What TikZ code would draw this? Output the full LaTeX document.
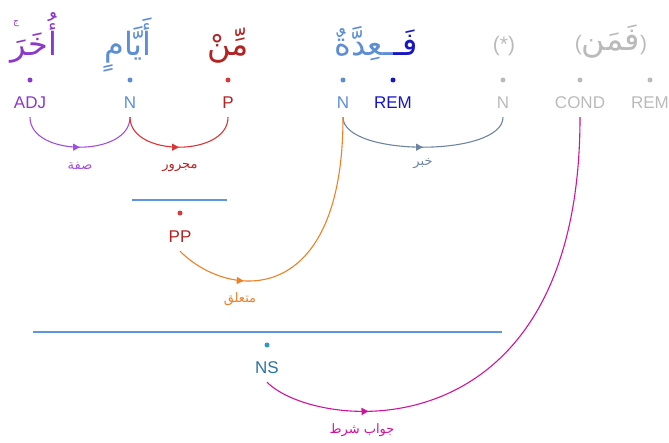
\documentclass[tikz,border=0pt]{standalone}
\usepackage{fontspec}
\setmainfont{Liberation Sans}
\newfontfamily\arabicfont[Script=Arabic]{DejaVu Sans}
\TeXXeTstate=1
\usetikzlibrary{arrows.meta,decorations.markings}
\definecolor{qpurple}{RGB}{140,56,200}
\definecolor{qblue}{RGB}{92,142,214}
\definecolor{qred}{RGB}{178,36,36}
\definecolor{qredl}{RGB}{214,58,58}
\definecolor{qrem}{RGB}{22,22,196}
\definecolor{qgray}{RGB}{186,186,186}
\definecolor{qteal}{RGB}{40,118,160}
\definecolor{qtealdot}{RGB}{50,152,192}
\definecolor{qline}{RGB}{92,150,222}
\definecolor{cpurple}{RGB}{160,80,222}
\definecolor{cred}{RGB}{220,52,52}
\definecolor{cslate}{RGB}{108,132,162}
\definecolor{corange}{RGB}{238,128,38}
\definecolor{cmag}{RGB}{208,18,158}
\newcommand\artxt[1]{{\arabicfont\beginR #1\endR}}
\newcommand\paren[1]{{\fontsize{21}{24}\selectfont #1}}

\begin{document}
\begin{tikzpicture}[x=1pt,y=-1pt,
    word/.style={anchor=base,font=\fontsize{32}{36}\selectfont,inner sep=0pt},
    tag/.style={anchor=base,font=\fontsize{17}{20}\selectfont,text height=12pt,text depth=0pt,inner xsep=2pt,inner ysep=9pt},
    pt/.style={circle,fill,inner sep=0pt,minimum size=5pt},
    rel/.style={font=\fontsize{13}{15}\selectfont\arabicfont,inner sep=1pt},
    dep/.style={line width=1.1pt,decoration={markings,mark=at position #1 with {\arrow{Triangle[length=7pt,width=7pt]}}},postaction=decorate},
    dep/.default=0.5,
    span/.style={qline,line width=1.1pt}]
    \useasboundingbox (0,0) rectangle (669,442);
    % words
    \node[word,text=qpurple] (wadj) at (34,55) {\artxt{أُخَرَ}};
    \node[text=qpurple,font=\fontsize{9}{9}\selectfont\arabicfont,inner sep=0pt] (wjeem) at (16,24) {ج};
    \node[word,text=qblue] (wn1) at (128,55) {\artxt{أَيَّامٍ}};
    \node[word,text=qred] (wp) at (228,55) {\artxt{مِّنْ}};
    \node[word,text=qblue,anchor=base east] (wn2) at (393,55) {\artxt{ـعِدَّةٌ}};
    \node[word,text=qrem,anchor=base west] (wrem) at (wn2.base east) {\artxt{فَـ}};
    \node[word,text=qgray] (wn3) at (504,51) {\paren{(*)}};
    \node[word,text=qgray] (wcond) at (611,50) {\paren{(}\artxt{فَمَن}\paren{)}};
    % dots and tags
    \foreach \nm/\x/\c in {adj/30/qpurple,n1/130/qblue,p/228/qredl,n2/343/qblue,rem/393/qrem,n3/503/qgray,cond/580/qgray,remb/650/qgray}
      \node[pt,fill=\c] (d\nm) at (\x,80) {};
    \node[tag,text=qpurple] (adj) at (30,108) {ADJ};
    \node[tag,text=qblue] (n1) at (130,108) {N};
    \node[tag,text=qred] (p) at (228,108) {P};
    \node[tag,text=qblue] (n2) at (343,108) {N};
    \node[tag,text=qrem] (rem) at (393,108) {REM};
    \node[tag,text=qgray] (n3) at (503,108) {N};
    \node[tag,text=qgray] (cond) at (580,108) {COND};
    \node[tag,text=qgray] (remb) at (650,108) {REM};
    % phrases
    \draw[span] (132,200) -- (227,200);
    \node[pt,fill=qredl] (dpp) at (180,213) {};
    \node[tag,text=qred] (pp) at (180,242) {PP};
    \draw[span] (33,332) -- (502,332);
    \node[pt,fill=qtealdot] (dns) at (267,345) {};
    \node[tag,text=qteal] (ns) at (267,373) {NS};
    % dependencies
    \draw[dep,cpurple] (adj.south) .. controls +(0,40) and +(0,40) .. (n1.south);
    \draw[dep,cred] (n1.south) .. controls +(0,40) and +(0,40) .. (p.south);
    \draw[dep,cslate] (n2.south) .. controls +(0,40) and +(0,40) .. (n3.south);
    \draw[dep=0.25,corange] (pp.south) .. controls +(50,50) and +(0,190) .. (n2.south);
    \draw[dep=0.21,cmag] (ns.south) .. controls +(50,50) and +(0,340) .. (cond.south);
    \node[rel,text=cpurple] (lsifa) at (80,166) {\artxt{صفة}};
    \node[rel,text=qred] (ljar) at (180,167) {\artxt{مجرور}};
    \node[rel,text=cslate] (lkhabar) at (423,164) {\artxt{خبر}};
    \node[rel,text=corange] (lmut) at (240,299) {\artxt{متعلق}};
    \node[rel,text=cmag] (ljaw) at (362,430) {\artxt{جواب شرط}};
\end{tikzpicture}
\end{document}
